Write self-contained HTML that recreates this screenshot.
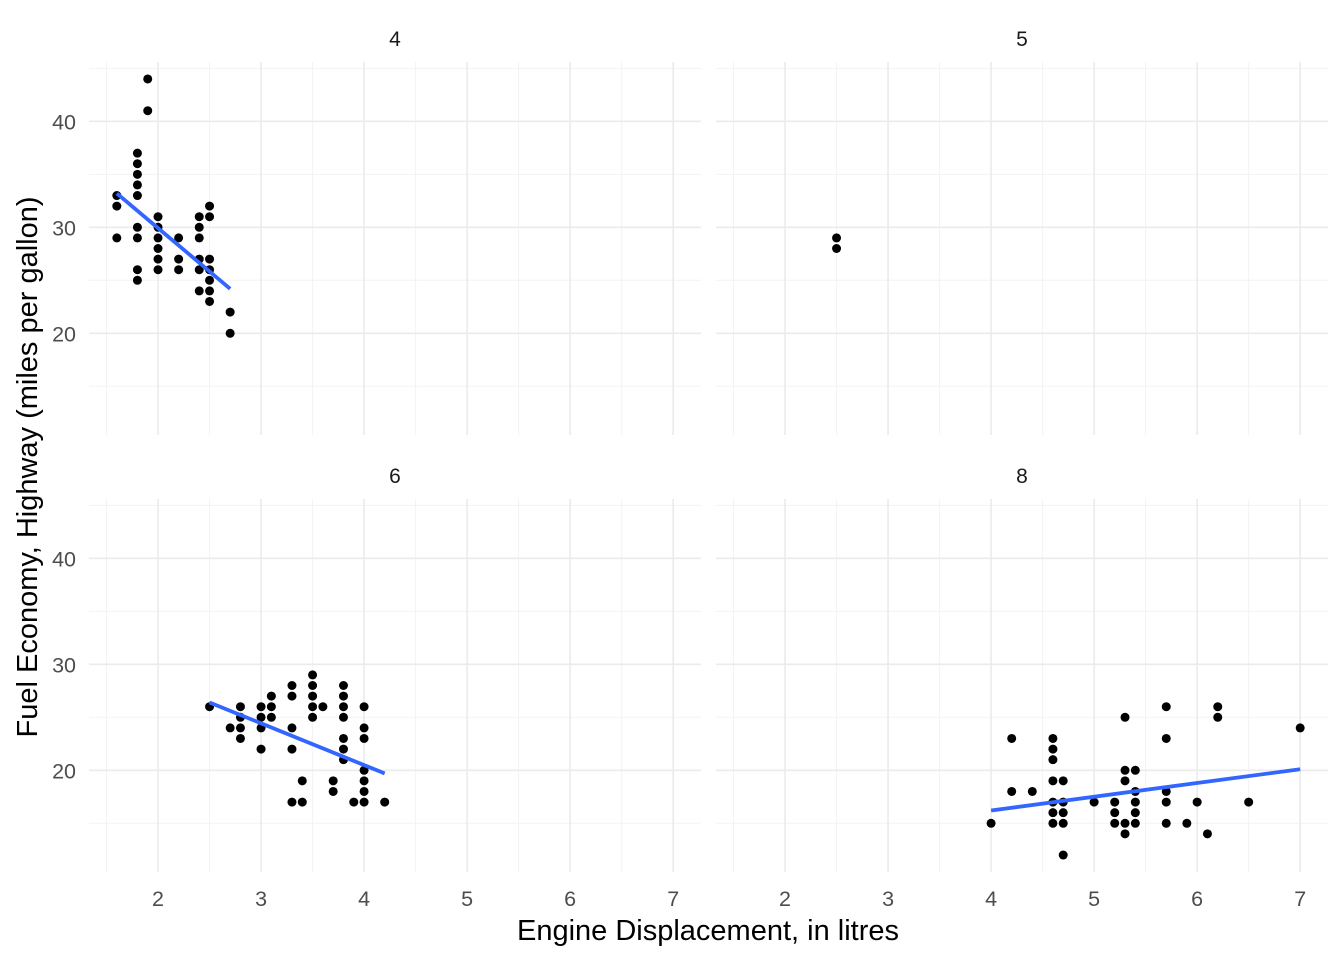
<!DOCTYPE html>
<html><head><meta charset="utf-8"><style>
body{margin:0;background:#fff;}
svg{font-family:"Liberation Sans",sans-serif;display:block}
</style></head><body>
<svg id="chart" width="1344" height="960" viewBox="0 0 1344 960"></svg>
<script>
const facetLabels=["4","5","6","8"];
const cyl4X=[1.6,1.6,1.6,1.8,1.8,1.8,1.8,1.8,1.8,1.8,1.8,1.8,1.9,1.9,2.0,2.0,2.0,2.0,2.0,2.0,2.2,2.2,2.2,2.4,2.4,2.4,2.4,2.4,2.4,2.5,2.5,2.5,2.5,2.5,2.5,2.5,2.7,2.7];
const cyl4Y=[33,32,29,37,36,35,34,33,30,29,26,25,44,41,31,30,29,28,27,26,29,27,26,31,30,29,27,26,24,32,31,27,26,25,24,23,22,20];
const cyl5X=[2.5,2.5];
const cyl5Y=[29,28];
const cyl6X=[2.5,2.7,2.8,2.8,2.8,2.8,3.0,3.0,3.0,3.0,3.1,3.1,3.1,3.3,3.3,3.3,3.3,3.3,3.4,3.4,3.5,3.5,3.5,3.5,3.5,3.6,3.7,3.7,3.8,3.8,3.8,3.8,3.8,3.8,3.8,3.9,4.0,4.0,4.0,4.0,4.0,4.0,4.0,4.2];
const cyl6Y=[26,24,26,25,24,23,26,25,24,22,27,26,25,28,27,24,22,17,19,17,29,28,27,26,25,26,19,18,28,27,26,25,23,22,21,17,26,24,23,20,19,18,17,17];
const cyl8X=[4.0,4.2,4.2,4.4,4.6,4.6,4.6,4.6,4.6,4.6,4.6,4.7,4.7,4.7,4.7,4.7,5.0,5.2,5.2,5.2,5.3,5.3,5.3,5.3,5.3,5.4,5.4,5.4,5.4,5.4,5.7,5.7,5.7,5.7,5.7,5.9,6.0,6.1,6.2,6.2,6.5,7.0];
const cyl8Y=[15,23,18,18,23,22,21,19,17,16,15,19,17,16,15,12,17,17,16,15,25,20,19,15,14,20,18,17,16,15,26,23,18,17,15,15,17,14,26,25,17,24];
const fitX=[[1.6,2.7],null,[2.5,4.2],[4.0,7.0]];
const fitY=[[33.2,24.2],null,[26.4,19.7],[16.2,20.1]];
const xTicks=[2,3,4,5,6,7];
const yTicks=[20,30,40];
const xsAll=[cyl4X,cyl5X,cyl6X,cyl8X], ysAll=[cyl4Y,cyl5Y,cyl6Y,cyl8Y];
const svg=document.getElementById('chart');const NS="http://www.w3.org/2000/svg";
function mk(t,a,p){const e=document.createElementNS(NS,t);for(const k in a)e.setAttribute(k,a[k]);(p||svg).appendChild(e);return e;}
const panels=[[89,62],[716,62],[89,499],[716,499]];const PW=612,PH=373;
const xmin=1.33,xmax=7.27,ymin=10.4,ymax=45.6;
panels.forEach((p,i)=>{
 const sx=v=>p[0]+(v-xmin)/(xmax-xmin)*PW, sy=v=>p[1]+PH-(v-ymin)/(ymax-ymin)*PH;
 const g=mk('g',{});
 
 
 for(let v=1.5;v<=7.5;v+=1){if(v>xmin&&v<xmax)mk('line',{x1:sx(v),x2:sx(v),y1:p[1],y2:p[1]+PH,stroke:'#f3f3f3','stroke-width':1},g);}
 for(let v=15;v<=45;v+=10)mk('line',{x1:p[0],x2:p[0]+PW,y1:sy(v),y2:sy(v),stroke:'#f3f3f3','stroke-width':1},g);
 xTicks.forEach(v=>mk('line',{x1:sx(v),x2:sx(v),y1:p[1],y2:p[1]+PH,stroke:'#ebebeb','stroke-width':1.6},g));
 yTicks.forEach(v=>mk('line',{x1:p[0],x2:p[0]+PW,y1:sy(v),y2:sy(v),stroke:'#ebebeb','stroke-width':1.6},g));
 const st=mk('text',{x:p[0]+PW/2,y:p[1]-16,'text-anchor':'middle','font-size':21,fill:'#1a1a1a'},g);st.textContent=facetLabels[i];
 
 
 xsAll[i].forEach((x,j)=>{const c=mk('circle',{cx:sx(x),cy:sy(ysAll[i][j]),r:4.5,fill:'#000'},g);
  
  });
 if(fitX[i]){const l=mk('line',{x1:sx(fitX[i][0]),y1:sy(fitY[i][0]),x2:sx(fitX[i][1]),y2:sy(fitY[i][1]),stroke:'#3366ff','stroke-width':3.8},g);
  
  }
 if(i>=2)xTicks.forEach(v=>{const t=mk('text',{x:sx(v),y:906,'text-anchor':'middle','font-size':21.5,fill:'#4d4d4d'});t.textContent=v;
  
  });
 if(i%2==0)yTicks.forEach(v=>{const t=mk('text',{x:76,y:sy(v)+8,'text-anchor':'end','font-size':21.5,fill:'#4d4d4d'});t.textContent=v;
  
  });
});
const xt=mk('text',{x:708,y:940,'text-anchor':'middle','font-size':29,fill:'#000'});xt.textContent='Engine Displacement, in litres';


const yt=mk('text',{x:0,y:0,transform:'translate(37,467) rotate(-90)','text-anchor':'middle','font-size':29,fill:'#000'});yt.textContent='Fuel Economy, Highway (miles per gallon)';


</script>
</body></html>
